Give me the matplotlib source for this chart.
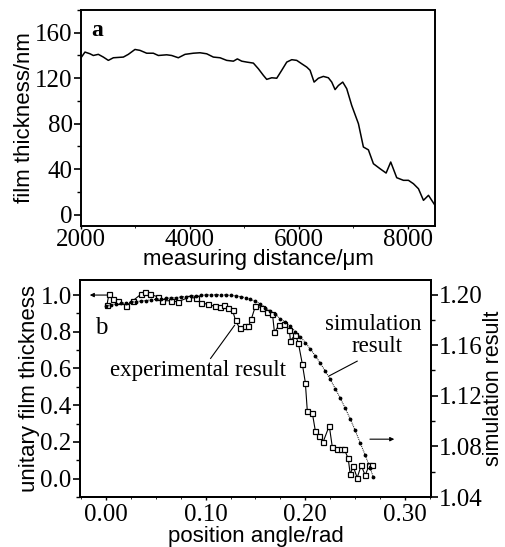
import matplotlib.pyplot as plt
from matplotlib.ticker import MultipleLocator

# (a) film thickness along the measuring line
dist_um = [2000, 2073, 2165, 2226, 2318, 2410, 2502, 2594, 2778, 2869, 2991, 3083,
           3206, 3328, 3420, 3573, 3665, 3787, 3910, 4063, 4185, 4308, 4430, 4553,
           4675, 4798, 4871, 4951, 5043, 5165, 5257, 5349, 5410, 5502, 5594, 5686,
           5778, 5870, 5961, 6053, 6145, 6206, 6280, 6359, 6450, 6542, 6604, 6665,
           6726, 6806, 6879, 6971, 7094, 7185, 7277, 7369, 7491, 7602, 7687, 7797,
           7920, 8012, 8104, 8196, 8288, 8380, 8500]
thick_nm = [138, 143, 141.5, 140, 141, 138.6, 135.7, 138, 138.6, 141, 145.3, 144.5,
            142, 142, 140, 140.6, 140, 138, 141, 142, 142.4, 141.5, 138.6, 138,
            135.7, 135, 137, 135, 134.2, 133.3, 128.3, 122.5, 119, 120.4, 120, 127,
            134.2, 136.3, 135.7, 132.7, 129.8, 127, 116.6, 120, 121.6, 120.4, 116.6, 110,
            113.6, 116.6, 110.8, 96, 80, 59.5, 57, 44.8, 40.4, 36.6, 46.3, 32.5,
            30.2, 30.2, 27.2, 22.8, 12.6, 17, 8.2]

# (b) experimental result (left axis)
exp_angle = [0.001, 0.003, 0.007, 0.012, 0.020, 0.027, 0.035, 0.039, 0.044, 0.052,
             0.056, 0.065, 0.072, 0.082, 0.090, 0.095, 0.102, 0.109, 0.114, 0.118,
             0.122, 0.127, 0.130, 0.134, 0.139, 0.143, 0.146, 0.150, 0.157, 0.162,
             0.167, 0.169, 0.174, 0.179, 0.184, 0.185, 0.190, 0.193, 0.197, 0.200,
             0.202, 0.207, 0.210, 0.214, 0.218, 0.224, 0.227, 0.232, 0.236, 0.239,
             0.243, 0.245, 0.248, 0.252, 0.256, 0.260, 0.264, 0.267]
exp_thick = [0.945, 1.004, 0.976, 0.969, 0.941, 0.969, 1.004, 1.015, 1.004, 0.991,
             0.969, 0.969, 0.963, 0.985, 0.985, 0.958, 0.950, 0.939, 0.936, 0.945,
             0.930, 0.917, 0.862, 0.820, 0.829, 0.829, 0.872, 0.941, 0.930, 0.908,
             0.899, 0.798, 0.839, 0.844, 0.811, 0.752, 0.783, 0.739, 0.624, 0.523,
             0.367, 0.358, 0.261, 0.235, 0.202, 0.288, 0.174, 0.161, 0.161, 0.160,
             0.110, 0.024, 0.068, 0.004, 0.073, 0.018, 0.073, 0.077]

# (b) simulation result (right axis)
sim_angle = [0.000, 0.005, 0.010, 0.015, 0.020, 0.025, 0.030, 0.035, 0.040, 0.045,
             0.050, 0.055, 0.060, 0.065, 0.070, 0.075, 0.080, 0.085, 0.090, 0.095,
             0.100, 0.105, 0.110, 0.115, 0.120, 0.125, 0.130, 0.135, 0.140, 0.145,
             0.150, 0.155, 0.160, 0.165, 0.170, 0.175, 0.180, 0.185, 0.190, 0.195,
             0.200, 0.205, 0.210, 0.215, 0.220, 0.225, 0.230, 0.235, 0.240, 0.245,
             0.250, 0.255, 0.260, 0.265, 0.268]
sim_val = [1.1911, 1.1918, 1.1926, 1.1930, 1.1936, 1.1940, 1.1945, 1.1949, 1.1953, 1.1958,
           1.1962, 1.1966, 1.1969, 1.1974, 1.1976, 1.1981, 1.1984, 1.1988, 1.1991, 1.1994,
           1.1997, 1.1998, 1.1998, 1.1998, 1.1997, 1.1994, 1.1990, 1.1984, 1.1976, 1.1962,
           1.1947, 1.1926, 1.1897, 1.1870, 1.1843, 1.1809, 1.1780, 1.1748, 1.1708, 1.1667,
           1.1621, 1.1570, 1.1516, 1.1458, 1.1395, 1.1330, 1.1257, 1.1182, 1.1102, 1.1018,
           1.0926, 1.0829, 1.0731, 1.0630, 1.0560]

serif = ['Liberation Serif', 'DejaVu Serif']
sans = ['Liberation Sans', 'DejaVu Sans']
plt.rcParams['font.family'] = serif
plt.rcParams['axes.linewidth'] = 1.4

fig = plt.figure(figsize=(5.05, 5.47), dpi=100)

# ---- panel a ----
ax1 = fig.add_axes([0.1604, 0.5868, 0.701, 0.3949])
ax1.plot(dist_um, thick_nm, color='k', lw=1.1)
ax1.set_xlim(2000, 8500)
ax1.set_ylim(-10, 180)
ax1.yaxis.set_major_locator(MultipleLocator(40))
ax1.yaxis.set_minor_locator(MultipleLocator(20))
ax1.xaxis.set_major_locator(MultipleLocator(2000))
ax1.xaxis.set_minor_locator(MultipleLocator(1000))
ax1.tick_params(axis='y', direction='out', length=5, width=1.2, labelsize=18, pad=1)
ax1.tick_params(axis='y', which='minor', direction='out', length=3, width=1.0)
ax1.tick_params(axis='x', direction='out', length=2, width=1.0, labelsize=18, pad=0)
ax1.tick_params(axis='x', which='minor', length=1.5)
ax1.set_xlabel('measuring distance/\u03bcm', family=sans, fontsize=16, labelpad=-1)
ax1.set_ylabel('film thickness/nm', family=sans, fontsize=16, labelpad=0)
ax1.text(2300, 162, 'a', fontsize=17, fontweight='bold', ha='center', va='center')

# ---- panel b ----
ax2 = fig.add_axes([0.1584, 0.0914, 0.695, 0.3967])
ax2.plot(exp_angle, exp_thick, color='k', lw=0.8, marker='s', ms=3.6,
         mfc='white', mec='k', mew=0.9)
ax2.set_xlim(-0.026, 0.326)
ax2.set_ylim(-0.1, 1.082)
ax2.yaxis.set_major_locator(MultipleLocator(0.2))
ax2.yaxis.set_minor_locator(MultipleLocator(0.1))
ax2.xaxis.set_major_locator(MultipleLocator(0.1))
ax2.xaxis.set_minor_locator(MultipleLocator(0.025))
ax2.xaxis.set_major_formatter(lambda v, p: '%.2f' % v)
ax2.yaxis.set_major_formatter(lambda v, p: '%.1f' % v)
ax2.tick_params(axis='y', direction='out', length=5, width=1.2, labelsize=18, pad=1)
ax2.tick_params(axis='y', which='minor', direction='out', length=3, width=1.0)
ax2.tick_params(axis='x', direction='out', length=2, width=1.0, labelsize=18, pad=3)
ax2.tick_params(axis='x', which='minor', length=1.5)
ax2.set_xlabel('position angle/rad', family=sans, fontsize=16, labelpad=0)
ax2.set_ylabel('unitary film thickness', family=sans, fontsize=16, labelpad=0)

ax3 = ax2.twinx()
ax3.plot(sim_angle, sim_val, color='k', lw=0.7, ls=(0, (1, 1)), marker='.', ms=3.5)
ax3.set_ylim(1.04, 1.2115)
ax3.yaxis.set_major_locator(MultipleLocator(0.04))
ax3.yaxis.set_minor_locator(MultipleLocator(0.02))
ax3.yaxis.set_major_formatter(lambda v, p: '%.2f' % v)
ax3.tick_params(axis='y', direction='out', length=5, width=1.2, labelsize=18, pad=1)
ax3.tick_params(axis='y', which='minor', direction='out', length=3, width=1.0)
ax3.set_ylabel('simulation result', family=sans, fontsize=15.5, labelpad=0)

ax2.text(-0.005, 0.82, 'b', fontsize=18, ha='center', va='center')
ax2.annotate('', xy=(-0.019, 1.0), xytext=(0.004, 1.0),
             arrowprops=dict(arrowstyle='-|>', color='k', lw=0.8,
                             mutation_scale=6))
ax2.annotate('', xy=(0.292, 0.215), xytext=(0.262, 0.215),
             arrowprops=dict(arrowstyle='-|>', color='k', lw=0.8,
                             mutation_scale=6))
ax2.text(0.092, 0.59, 'experimental result', fontsize=16.5, ha='center', va='center')
ax2.plot([0.105, 0.129], [0.655, 0.835], color='k', lw=0.8)
ax2.text(0.268, 0.84, 'simulation', fontsize=16.5, ha='center', va='center')
ax2.text(0.272, 0.72, 'result', fontsize=16.5, ha='center', va='center')
ax2.plot([0.252, 0.224], [0.64, 0.56], color='k', lw=0.8)

fig.savefig('out.png', dpi=100)
